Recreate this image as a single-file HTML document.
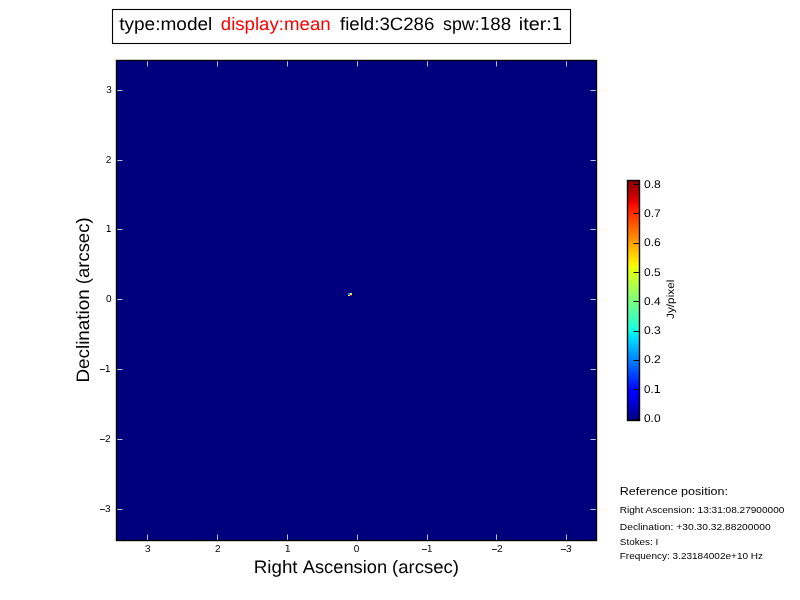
<!DOCTYPE html>
<html><head><meta charset="utf-8"><style>
html,body{margin:0;padding:0;background:#fff;width:800px;height:600px;overflow:hidden}
svg{display:block;will-change:transform;font-family:"Liberation Sans",sans-serif}
</style></head><body>
<svg width="800" height="600" viewBox="0 0 800 600" font-family="Liberation Sans" fill="#000" text-rendering="geometricPrecision">
<rect x="112.5" y="9.5" width="458" height="34" fill="none" stroke="#000" stroke-width="1.1"/>
<rect x="116" y="60" width="481" height="481" fill="#00007f"/>
<rect x="147" y="61" width="1" height="5.5" fill="#bebee4"/>
<rect x="147" y="534.5" width="1" height="5.5" fill="#bebee4"/>
<rect x="217" y="61" width="1" height="5.5" fill="#bebee4"/>
<rect x="217" y="534.5" width="1" height="5.5" fill="#bebee4"/>
<rect x="287" y="61" width="1" height="5.5" fill="#bebee4"/>
<rect x="287" y="534.5" width="1" height="5.5" fill="#bebee4"/>
<rect x="357" y="61" width="1" height="5.5" fill="#bebee4"/>
<rect x="357" y="534.5" width="1" height="5.5" fill="#bebee4"/>
<rect x="427" y="61" width="1" height="5.5" fill="#bebee4"/>
<rect x="427" y="534.5" width="1" height="5.5" fill="#bebee4"/>
<rect x="496" y="61" width="1" height="5.5" fill="#bebee4"/>
<rect x="496" y="534.5" width="1" height="5.5" fill="#bebee4"/>
<rect x="566" y="61" width="1" height="5.5" fill="#bebee4"/>
<rect x="566" y="534.5" width="1" height="5.5" fill="#bebee4"/>
<rect x="117" y="90" width="5.5" height="1" fill="#bebee4"/>
<rect x="590.5" y="90" width="5.5" height="1" fill="#bebee4"/>
<rect x="117" y="160" width="5.5" height="1" fill="#bebee4"/>
<rect x="590.5" y="160" width="5.5" height="1" fill="#bebee4"/>
<rect x="117" y="229" width="5.5" height="1" fill="#bebee4"/>
<rect x="590.5" y="229" width="5.5" height="1" fill="#bebee4"/>
<rect x="117" y="299" width="5.5" height="1" fill="#bebee4"/>
<rect x="590.5" y="299" width="5.5" height="1" fill="#bebee4"/>
<rect x="117" y="369" width="5.5" height="1" fill="#bebee4"/>
<rect x="590.5" y="369" width="5.5" height="1" fill="#bebee4"/>
<rect x="117" y="439" width="5.5" height="1" fill="#bebee4"/>
<rect x="590.5" y="439" width="5.5" height="1" fill="#bebee4"/>
<rect x="117" y="509" width="5.5" height="1" fill="#bebee4"/>
<rect x="590.5" y="509" width="5.5" height="1" fill="#bebee4"/>
<rect x="116.5" y="60.5" width="480" height="480" fill="none" stroke="#000" stroke-width="1.4"/>
<rect x="348" y="293" width="2" height="2" fill="#1a7cff"/>
<rect x="350" y="293" width="2" height="2" fill="#eef030"/>
<rect x="348" y="295" width="2" height="1" fill="#c0ff60"/>
<rect x="350" y="295" width="2" height="1" fill="#b00000"/>
<rect x="347" y="291" width="1" height="1" fill="#00009a"/>
<rect x="355" y="300" width="1" height="1" fill="#0000a0"/>
<defs><linearGradient id="jet" x1="0" y1="1" x2="0" y2="0"><stop offset="0" stop-color="rgb(0, 0, 128)"/><stop offset="0.11" stop-color="rgb(0, 0, 255)"/><stop offset="0.125" stop-color="rgb(0, 0, 255)"/><stop offset="0.34" stop-color="rgb(0, 219, 255)"/><stop offset="0.35" stop-color="rgb(0, 229, 247)"/><stop offset="0.375" stop-color="rgb(21, 255, 226)"/><stop offset="0.64" stop-color="rgb(239, 255, 8)"/><stop offset="0.65" stop-color="rgb(247, 246, 0)"/><stop offset="0.66" stop-color="rgb(255, 236, 0)"/><stop offset="0.89" stop-color="rgb(255, 19, 0)"/><stop offset="0.91" stop-color="rgb(232, 0, 0)"/><stop offset="1" stop-color="rgb(128, 0, 0)"/></linearGradient></defs>
<rect x="627.5" y="180.5" width="12" height="240" fill="url(#jet)" stroke="#000" stroke-width="1.4"/>
<rect x="633.5" y="419" width="5.5" height="1" fill="#000" fill-opacity="0.9"/>
<rect x="633.5" y="389" width="5.5" height="1" fill="#000" fill-opacity="0.9"/>
<rect x="633.5" y="360" width="5.5" height="1" fill="#000" fill-opacity="0.9"/>
<rect x="633.5" y="331" width="5.5" height="1" fill="#000" fill-opacity="0.9"/>
<rect x="633.5" y="301" width="5.5" height="1" fill="#000" fill-opacity="0.9"/>
<rect x="633.5" y="272" width="5.5" height="1" fill="#000" fill-opacity="0.9"/>
<rect x="633.5" y="243" width="5.5" height="1" fill="#000" fill-opacity="0.9"/>
<rect x="633.5" y="213" width="5.5" height="1" fill="#000" fill-opacity="0.9"/>
<rect x="633.5" y="184" width="5.5" height="1" fill="#000" fill-opacity="0.9"/>
<path d="M254 -170L584 -170L584 -1309L225 -1237L225 -1421L582 -1493L784 -1493L784 -170L1114 -170L1114 0L254 0Z" transform="translate(479.752,29.800) scale(0.008211,0.008573)"/>
<path d="M254 -170L584 -170L584 -1309L225 -1237L225 -1421L582 -1493L784 -1493L784 -170L1114 -170L1114 0L254 0Z" transform="translate(551.627,29.900) scale(0.008324,0.008573)"/>
<path d="M254 -170L584 -170L584 -1309L225 -1237L225 -1421L582 -1493L784 -1493L784 -170L1114 -170L1114 0L254 0Z" transform="translate(284.637,551.800) scale(0.004724,0.004622)"/>
<path d="M254 -170L584 -170L584 -1309L225 -1237L225 -1421L582 -1493L784 -1493L784 -170L1114 -170L1114 0L254 0Z" transform="translate(426.938,551.800) scale(0.004274,0.004622)"/>
<rect x="421.90" y="549" width="5.00" height="1" fill="#000" fill-opacity="0.85"/>
<rect x="491.90" y="549" width="5.00" height="1" fill="#000" fill-opacity="0.85"/>
<rect x="560.90" y="549" width="5.10" height="1" fill="#000" fill-opacity="0.85"/>
<path d="M254 -170L584 -170L584 -1309L225 -1237L225 -1421L582 -1493L784 -1493L784 -170L1114 -170L1114 0L254 0Z" transform="translate(105.662,231.900) scale(0.004612,0.004689)"/>
<path d="M254 -170L584 -170L584 -1309L225 -1237L225 -1421L582 -1493L784 -1493L784 -170L1114 -170L1114 0L254 0Z" transform="translate(104.788,371.900) scale(0.004499,0.004655)"/>
<rect x="99.90" y="369" width="5.00" height="1" fill="#000" fill-opacity="0.85"/>
<rect x="99.90" y="439" width="5.00" height="1" fill="#000" fill-opacity="0.85"/>
<rect x="99.90" y="509" width="5.00" height="1" fill="#000" fill-opacity="0.85"/>
<path d="M254 -170L584 -170L584 -1309L225 -1237L225 -1421L582 -1493L784 -1493L784 -170L1114 -170L1114 0L254 0Z" transform="translate(653.371,393.000) scale(0.005906,0.005425)"/>
<text x="119.16" y="30.00" font-size="18" fill="#000" textLength="93.21" lengthAdjust="spacingAndGlyphs">type:model</text>
<text x="220.77" y="30.00" font-size="18" fill="#f00" textLength="109.89" lengthAdjust="spacingAndGlyphs">display:mean</text>
<text x="339.99" y="30.00" font-size="18" fill="#000" textLength="94.38" lengthAdjust="spacingAndGlyphs">field:3C286</text>
<text x="443.03" y="30.00" font-size="18" fill="#000" textLength="36.66" lengthAdjust="spacingAndGlyphs">spw:</text>
<text x="490.31" y="30.00" font-size="18" fill="#000" textLength="20.82" lengthAdjust="spacingAndGlyphs">88</text>
<text x="518.80" y="30.00" font-size="18" fill="#000" textLength="33.00" lengthAdjust="spacingAndGlyphs">iter:</text>
<text x="144.99" y="552.00" font-size="10" fill="#000">3</text>
<text x="214.88" y="552.00" font-size="10" fill="#000">2</text>
<text x="353.75" y="552.00" font-size="10" fill="#000">0</text>
<text x="496.90" y="552.00" font-size="10" fill="#000">2</text>
<text x="566.06" y="552.00" font-size="10" fill="#000">3</text>
<text x="106.13" y="93.00" font-size="10" fill="#000">3</text>
<text x="105.77" y="163.00" font-size="10" fill="#000">2</text>
<text x="105.93" y="302.00" font-size="10" fill="#000">0</text>
<text x="104.90" y="442.00" font-size="10" fill="#000">2</text>
<text x="105.10" y="512.00" font-size="10" fill="#000">3</text>
<text x="644.02" y="422.00" font-size="11" fill="#000" textLength="16.52" lengthAdjust="spacingAndGlyphs">0.0</text>
<text x="643.97" y="363.00" font-size="11" fill="#000" textLength="16.93" lengthAdjust="spacingAndGlyphs">0.2</text>
<text x="643.96" y="334.00" font-size="11" fill="#000" textLength="16.85" lengthAdjust="spacingAndGlyphs">0.3</text>
<text x="644.01" y="305.00" font-size="11" fill="#000" textLength="16.52" lengthAdjust="spacingAndGlyphs">0.4</text>
<text x="643.99" y="276.00" font-size="11" fill="#000" textLength="16.67" lengthAdjust="spacingAndGlyphs">0.5</text>
<text x="644.01" y="246.00" font-size="11" fill="#000" textLength="16.71" lengthAdjust="spacingAndGlyphs">0.6</text>
<text x="643.94" y="217.00" font-size="11" fill="#000" textLength="16.98" lengthAdjust="spacingAndGlyphs">0.7</text>
<text x="643.95" y="188.00" font-size="11" fill="#000" textLength="16.86" lengthAdjust="spacingAndGlyphs">0.8</text>
<text x="643.95" y="393.00" font-size="11" fill="#000" textLength="9.71" lengthAdjust="spacingAndGlyphs">0.</text>
<text x="253.71" y="572.75" font-size="18" fill="#000" textLength="43.85" lengthAdjust="spacingAndGlyphs">Right</text>
<text x="302.80" y="572.75" font-size="18" fill="#000" textLength="84.27" lengthAdjust="spacingAndGlyphs">Ascension</text>
<text x="392.05" y="572.75" font-size="18" fill="#000" textLength="66.96" lengthAdjust="spacingAndGlyphs">(arcsec)</text>
<text transform="translate(88.80,382.60) rotate(-90)" font-size="18" fill="#000" textLength="93.38" lengthAdjust="spacingAndGlyphs">Declination</text>
<text transform="translate(88.80,284.19) rotate(-90)" font-size="18" fill="#000" textLength="66.73" lengthAdjust="spacingAndGlyphs">(arcsec)</text>
<text transform="translate(673.60,318.97) rotate(-90)" font-size="10.5" fill="#000" textLength="39.33" lengthAdjust="spacingAndGlyphs">Jy/pixel</text>
<text x="619.67" y="494.75" font-size="11" fill="#000" textLength="108.26" lengthAdjust="spacingAndGlyphs" text-rendering="auto">Reference position:</text>
<text x="619.73" y="512.80" font-size="9" fill="#000" textLength="164.63" lengthAdjust="spacingAndGlyphs" text-rendering="auto">Right Ascension: 13:31:08.27900000</text>
<text x="619.80" y="529.80" font-size="9" fill="#000" textLength="150.84" lengthAdjust="spacingAndGlyphs" text-rendering="auto">Declination: +30.30.32.88200000</text>
<text x="619.80" y="544.80" font-size="9" fill="#000" textLength="38.53" lengthAdjust="spacingAndGlyphs" text-rendering="auto">Stokes: I</text>
<text x="619.70" y="558.50" font-size="9" fill="#000" textLength="143.36" lengthAdjust="spacingAndGlyphs" text-rendering="auto">Frequency: 3.23184002e+10 Hz</text>
</svg>
</body></html>
